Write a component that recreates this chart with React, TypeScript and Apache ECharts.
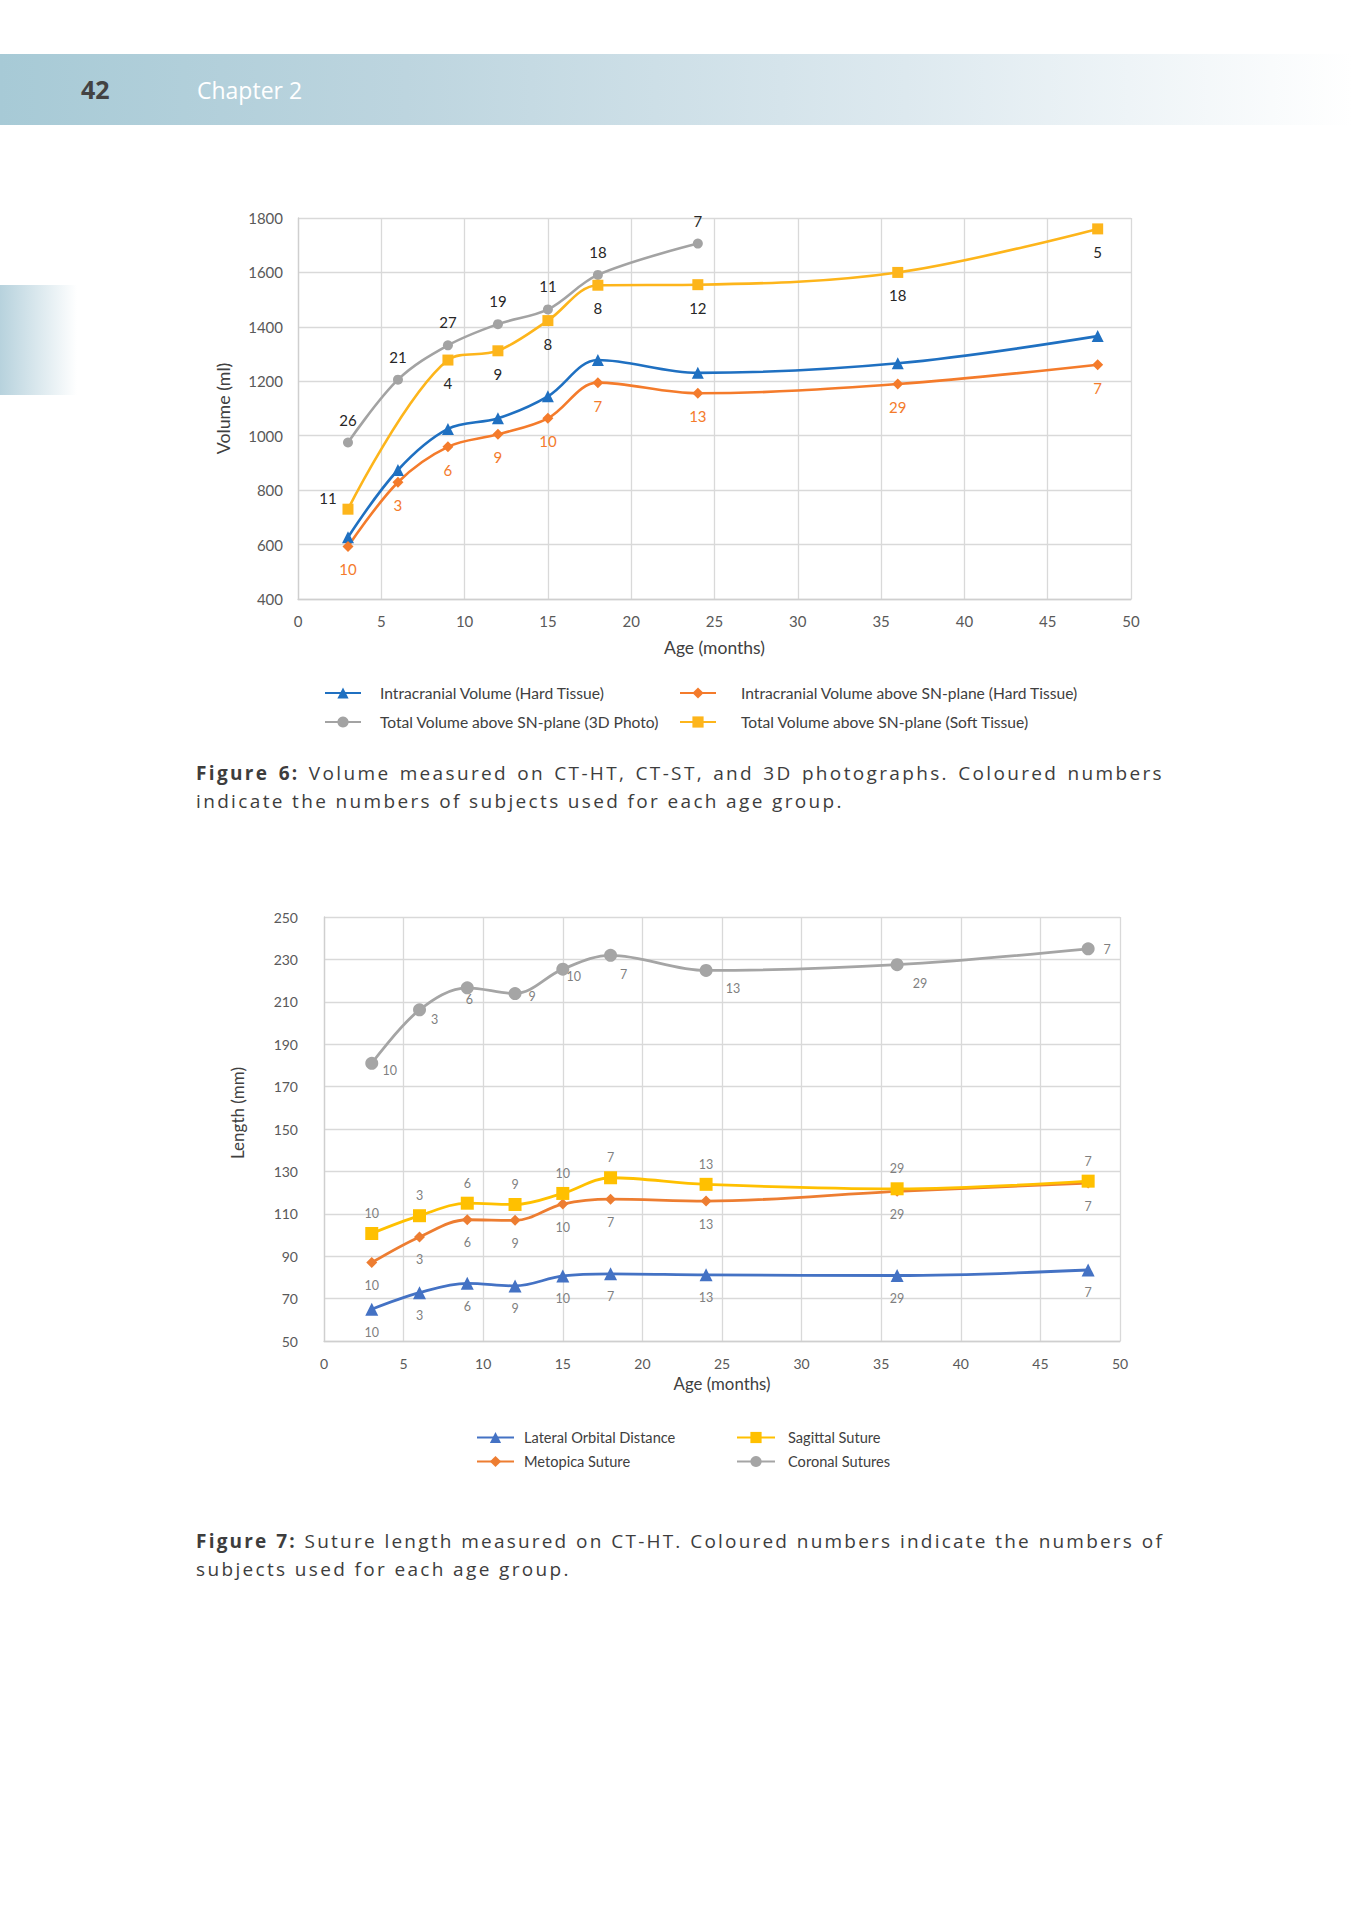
import React, { useEffect, useRef } from "react";
import * as echarts from "echarts";

// ---------- Figure 6 data ----------
const ages = [3, 6, 9, 12, 15, 18, 24, 36, 48];
const agesSoft = [3, 9, 12, 15, 18, 24, 36, 48];
const agesPhoto = [3, 6, 9, 12, 15, 18, 24];

const icvHard = [627, 874, 1025, 1064, 1145, 1278, 1231, 1266, 1366];
const icvAboveSN = [593, 829, 959, 1005, 1064, 1195, 1156, 1190, 1261];
const totalPhoto = [975, 1206, 1332, 1410, 1464, 1591, 1706];
const totalSoft = [730, 1278, 1312, 1423, 1553, 1555, 1600, 1760];

const nAboveSN = [10, 3, 6, 9, 10, 7, 13, 29, 7];
const nPhoto = [26, 21, 27, 19, 11, 18, 7];
const nSoft = [11, 4, 9, 8, 8, 12, 18, 5];

// ---------- Figure 7 data ----------
const lateralOrbital = [65, 72.8, 77.2, 76, 80.7, 81.7, 81.2, 80.9, 83.5];
const metopica = [87, 99.1, 107.2, 106.9, 114.6, 116.9, 116, 120.6, 124.5];
const sagittal = [100.7, 109.1, 115, 114.4, 119.6, 127, 123.9, 121.8, 125.4];
const coronal = [181, 206.2, 216.6, 213.9, 225.4, 231.9, 224.8, 227.5, 235];
const nSuture = [10, 3, 6, 9, 10, 7, 13, 29, 7];

// axis ranges
const volAxis = { min: 400, max: 1800, step: 200 };
const lenAxis = { min: 50, max: 250, step: 20 };
const ageAxis = { min: 0, max: 50, step: 5 };

// ---------- styling (label offsets in px) ----------
const softLabelOffsets = [[-20, -11], [0, 23], [0, 23], [0, 23], [0, 23], [0, 23], [0, 23], [0, 23]];
const coronalLabelOffsets = [[18, 7], [15, 10], [2, 12], [17, 3], [11, 7], [13, 19], [27, 18], [23, 19], [19, 1]];

const FONT = "Lato, 'Open Sans', sans-serif";

function points(xs: number[], ys: number[], base: number, counts?: number[], offsets?: (i: number) => number[]) {
  return xs.map((x, i) => {
    const item: any = { value: [x, ys[i] - base] };
    if (counts) {
      item.label = { show: true, formatter: String(counts[i]), offset: offsets ? offsets(i) : [0, 0] };
    }
    return item;
  });
}

function lineSeries(name: string, color: string, symbol: string, size: number, data: any[], idx: number, labelColor: string, labelSize: number, width: number) {
  return {
    type: "line",
    name,
    xAxisIndex: idx,
    yAxisIndex: idx,
    data,
    smooth: 0.35,
    symbol,
    symbolSize: size,
    lineStyle: { color, width },
    itemStyle: { color },
    label: {
      show: false,
      position: "inside",
      color: labelColor,
      fontSize: labelSize,
      fontFamily: FONT,
    },
    emphasis: { disabled: true },
    z: 3,
  };
}

function legendItem(name: string, left: number, centerY: number, fontSize: number, gap: number, iconW: number) {
  return {
    data: [name],
    left,
    top: centerY - 7,
    padding: 0,
    itemWidth: iconW,
    itemHeight: 14,
    selectedMode: false,
    textStyle: { fontFamily: FONT, fontSize, color: "#404040", padding: [0, 0, 0, gap] },
  };
}

function axisCommon(fontSize: number, margin: number) {
  return {
    axisLine: { show: true, lineStyle: { color: "#cfcfcf", width: 1.3 } },
    axisTick: { show: false },
    splitLine: { show: true, lineStyle: { color: "#d9d9d9", width: 1.3 } },
    axisLabel: { color: "#595959", fontSize, fontFamily: FONT, margin, formatter: (v: number) => String(v) },
    nameTextStyle: { color: "#595959", fontFamily: FONT },
  };
}

export default function App() {
  const ref = useRef<HTMLDivElement>(null);

  useEffect(() => {
    if (!ref.current) return;
    const chart = echarts.init(ref.current, null, { renderer: "svg" });

    const c1 = { blue: "#1f70c1", orange: "#f47b2b", gray: "#a3a3a3", yellow: "#fdb51b" };
    const c2 = { blue: "#4472c4", orange: "#ed7d31", gray: "#a5a5a5", yellow: "#ffc000" };

    const names1 = [
      "Intracranial Volume (Hard Tissue)",
      "Intracranial Volume above SN-plane (Hard Tissue)",
      "Total Volume above SN-plane (3D Photo)",
      "Total Volume above SN-plane (Soft Tissue)",
    ];
    const names2 = ["Lateral Orbital Distance", "Metopica Suture", "Sagittal Suture", "Coronal Sutures"];

    const option: any = {
      animation: false,
      backgroundColor: "#ffffff",
      grid: [
        { left: 298, top: 218, width: 833, height: 381 },
        { left: 324, top: 917, width: 796, height: 424 },
      ],
      xAxis: [
        {
          type: "value",
          gridIndex: 0,
          min: ageAxis.min,
          max: ageAxis.max,
          interval: ageAxis.step,
          name: "Age (months)",
          nameLocation: "middle",
          nameGap: 39,
          ...axisCommon(15, 14),
          nameTextStyle: { color: "#404040", fontFamily: FONT, fontSize: 17.5 },
        },
        {
          type: "value",
          gridIndex: 1,
          min: ageAxis.min,
          max: ageAxis.max,
          interval: ageAxis.step,
          name: "Age (months)",
          nameLocation: "middle",
          nameGap: 34,
          ...axisCommon(14, 15),
          nameTextStyle: { color: "#404040", fontFamily: FONT, fontSize: 16.8 },
        },
      ],
      yAxis: [
        {
          type: "value",
          gridIndex: 0,
          min: volAxis.min,
          max: volAxis.max,
          interval: volAxis.step,
          name: "Volume (ml)",
          nameLocation: "middle",
          nameGap: 66,
          ...axisCommon(15, 15),
          nameTextStyle: { color: "#404040", fontFamily: FONT, fontSize: 17.8 },
        },
        {
          // values plotted relative to the axis minimum so that ticks fall on 50, 70, ... 250
          type: "value",
          gridIndex: 1,
          min: 0,
          max: lenAxis.max - lenAxis.min,
          interval: lenAxis.step,
          name: "Length (mm)",
          nameLocation: "middle",
          nameGap: 78,
          ...axisCommon(14, 26),
          axisLabel: {
            color: "#595959",
            fontSize: 14,
            fontFamily: FONT,
            margin: 26,
            formatter: (v: number) => String(v + lenAxis.min),
          },
          nameTextStyle: { color: "#404040", fontFamily: FONT, fontSize: 17, padding: [0, 0, 0, 32] },
        },
      ],
      legend: [
        legendItem(names1[0], 324, 692, 15.6, 14, 36),
        legendItem(names1[1], 679, 692, 15.6, 20, 36),
        legendItem(names1[2], 324, 721, 15.6, 14, 36),
        legendItem(names1[3], 679, 721, 15.6, 20, 36),
        legendItem(names2[0], 476, 1437, 14.6, 5, 37),
        legendItem(names2[1], 476, 1461, 14.6, 5, 37),
        legendItem(names2[2], 736, 1437, 14.6, 8, 38),
        legendItem(names2[3], 736, 1461, 14.6, 8, 38),
      ],
      series: [
        lineSeries(names1[0], c1.blue, "triangle", 12, points(ages, icvHard, 0), 0, "#262626", 15, 2.6),
        lineSeries(names1[1], c1.orange, "diamond", 11, points(ages, icvAboveSN, 0, nAboveSN, () => [0, 23]), 0, c1.orange, 15, 2.6),
        lineSeries(names1[2], c1.gray, "circle", 10, points(agesPhoto, totalPhoto, 0, nPhoto, () => [0, -23]), 0, "#262626", 15, 2.6),
        lineSeries(names1[3], c1.yellow, "rect", 11, points(agesSoft, totalSoft, 0, nSoft, (i) => softLabelOffsets[i]), 0, "#262626", 15, 2.6),
        lineSeries(names2[0], c2.blue, "triangle", 13, points(ages, lateralOrbital, lenAxis.min, nSuture, () => [0, 23]), 1, "#7f7f7f", 12.5, 2.8),
        lineSeries(names2[1], c2.orange, "diamond", 11, points(ages, metopica, lenAxis.min, nSuture, () => [0, 23]), 1, "#7f7f7f", 12.5, 2.8),
        lineSeries(names2[2], c2.yellow, "rect", 13, points(ages, sagittal, lenAxis.min, nSuture, () => [0, -20]), 1, "#7f7f7f", 12.5, 2.8),
        lineSeries(names2[3], c2.gray, "circle", 13, points(ages, coronal, lenAxis.min, nSuture, (i) => coronalLabelOffsets[i]), 1, "#7f7f7f", 12.5, 2.8),
      ],
      graphic: [
        {
          type: "rect",
          x: 0,
          y: 54,
          shape: { width: 1352, height: 71 },
          style: {
            fill: new echarts.graphic.LinearGradient(0, 0, 1, 0, [
              { offset: 0, color: "#a7cad6" },
              { offset: 0.3, color: "#bdd5df" },
              { offset: 0.67, color: "#dde9ef" },
              { offset: 1, color: "#ffffff" },
            ]),
          },
          silent: true,
        },
        {
          type: "rect",
          x: 0,
          y: 285,
          shape: { width: 77, height: 110 },
          style: {
            fill: new echarts.graphic.LinearGradient(0, 0, 1, 0, [
              { offset: 0, color: "#b7d2dd" },
              { offset: 1, color: "#ffffff" },
            ]),
          },
          silent: true,
        },
        {
          type: "text",
          x: 81,
          y: 89,
          style: {
            text: "42",
            fill: "#434343",
            fontFamily: "'Open Sans', sans-serif",
            fontWeight: "bold",
            fontSize: 25,
            verticalAlign: "middle",
            textVerticalAlign: "middle",
          },
          silent: true,
        },
        {
          type: "text",
          x: 197,
          y: 90,
          style: {
            text: "Chapter 2",
            fill: "#ffffff",
            fontFamily: "'Open Sans', sans-serif",
            fontSize: 23,
            verticalAlign: "middle",
            textVerticalAlign: "middle",
          },
          silent: true,
        },
      ],
    };

    chart.setOption(option);
    return () => chart.dispose();
  }, []);

  const capBase: React.CSSProperties = {
    position: "absolute",
    left: 196,
    width: 968,
    fontFamily: "'Open Sans', sans-serif",
    fontSize: 19,
    lineHeight: "28px",
    letterSpacing: "2.35px",
    color: "#3d3d3d",
    whiteSpace: "nowrap",
  };
  const justified: React.CSSProperties = { textAlign: "justify", textAlignLast: "justify" } as any;

  return (
    <div style={{ position: "absolute", left: 0, top: 0, width: 1352, height: 1920, background: "#fff" }}>
      <div ref={ref} style={{ position: "absolute", left: 0, top: 0, width: 1352, height: 1920 }} />
      <div style={{ ...capBase, ...justified, top: 759 }}>
        <b>Figure 6:</b> Volume measured on CT-HT, CT-ST, and 3D photographs. Coloured numbers
      </div>
      <div style={{ ...capBase, top: 787 }}>indicate the numbers of subjects used for each age group.</div>
      <div style={{ ...capBase, ...justified, top: 1527, letterSpacing: "2.2px" }}>
        <b>Figure 7:</b> Suture length measured on CT-HT. Coloured numbers indicate the numbers of
      </div>
      <div style={{ ...capBase, top: 1555 }}>subjects used for each age group.</div>
    </div>
  );
}
